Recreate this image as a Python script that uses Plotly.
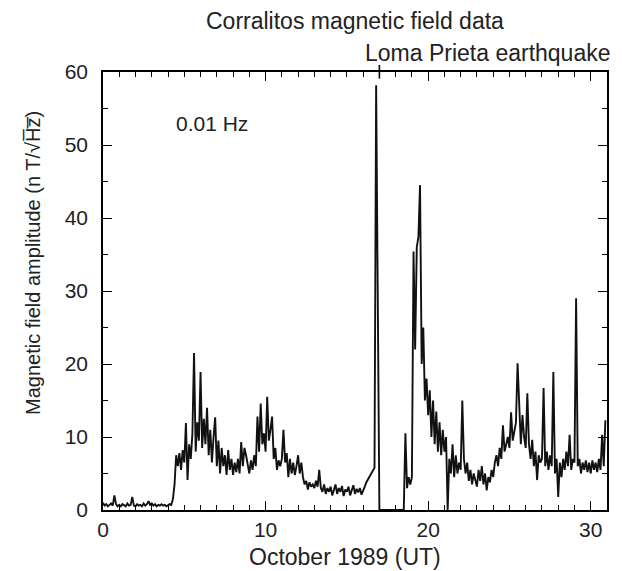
import plotly.graph_objects as go

# Samples every 0.1 day starting at day 0 (October 1989, UT)
sample_step_days = 0.1
amplitude_nT = [
    # day 0
    1.0, 0.6, 0.8, 0.5, 0.7, 0.9, 0.6, 2.0, 0.8, 0.5,
    # day 1
    0.7, 0.5, 0.8, 0.6, 0.5, 0.9, 0.6, 0.7, 1.8, 0.6,
    # day 2
    0.5, 0.8, 0.6, 0.7, 0.5, 0.9, 0.6, 0.8, 1.2, 0.7,
    # day 3
    0.9, 0.6, 0.8, 0.5, 0.7, 0.6, 0.8, 0.6, 0.7, 0.5,
    # day 4
    0.6, 0.8, 0.7, 1.5, 3.5, 7.5, 6.0, 7.8, 5.5, 8.2,
    # day 5
    6.5, 11.9, 4.1, 9.0, 7.0, 10.5, 21.5, 8.0, 12.0, 9.5,
    # day 6
    18.9, 8.5, 12.5, 9.0, 14.0, 7.5, 11.0, 6.5, 10.0, 12.7,
    # day 7
    6.0, 9.5, 5.0, 8.5, 6.0, 7.5, 4.8, 8.2, 5.5, 7.0,
    # day 8
    4.8, 6.5, 5.2, 7.0, 5.0, 9.3, 6.0, 8.5, 7.5, 6.0,
    # day 9
    5.0, 6.8, 5.5, 7.5, 6.0, 12.8, 8.0, 14.6, 9.0, 10.5,
    # day 10
    8.0, 15.5, 9.5, 11.0, 12.8, 7.0, 8.5, 5.5, 6.8, 6.0,
    # day 11
    7.0, 11.0, 6.5, 7.8, 4.5, 7.0, 5.0, 6.5, 4.8, 6.0,
    # day 12
    7.5, 5.0, 6.5, 4.5, 3.5, 4.0, 2.8, 3.8, 3.2, 3.5,
    # day 13
    3.0, 4.0, 3.2, 5.5, 3.0, 2.5, 3.5, 2.2, 3.0, 2.5,
    # day 14
    3.2, 2.0, 2.8, 3.5, 2.2, 3.0, 2.5, 3.3, 1.9, 2.8,
    # day 15
    2.5, 3.2, 2.0, 2.8, 3.4, 2.2, 2.9, 2.4, 3.0, 2.1,
    # day 16
    2.8, 3.2, 3.8, 4.2, 4.6, 5.0, 5.4, 5.8, 58.2, 30.0,
    # day 17
    0.0, 0.0, 0.0, 0.0, 0.0, 0.0, 0.0, 0.0, 0.0, 0.0,
    # day 18
    0.0, 0.0, 0.0, 0.0, 0.0, 0.0, 10.5, 3.0, 4.5, 3.5,
    # day 19
    4.5, 35.4, 22.0, 36.0, 37.4, 44.5, 20.0, 25.0, 15.0, 18.0,
    # day 20
    13.0, 16.4, 10.0, 15.0, 9.0, 13.5, 8.0, 12.0, 7.5, 11.0,
    # day 21
    8.0, 10.0, 0.0, 7.0, 5.0, 9.0, 4.5, 7.5, 5.0, 6.5,
    # day 22
    5.5, 15.0, 7.0, 5.0, 6.5, 4.0, 5.5, 3.5, 5.0, 4.2,
    # day 23
    3.2, 5.5, 4.0, 6.0, 3.5, 5.0, 2.7, 4.5, 3.8, 5.5,
    # day 24
    4.5, 6.5, 7.5, 6.0, 8.5, 7.0, 11.6, 8.0, 9.0, 10.0,
    # day 25
    8.5, 13.4, 9.5, 11.0, 12.0, 20.1, 14.0, 9.0, 13.0, 10.0,
    # day 26
    8.5, 16.0, 9.0, 7.0, 9.6, 6.0, 8.0, 4.1, 7.5, 6.5,
    # day 27
    7.0, 16.7, 6.0, 8.0, 5.5, 7.5, 6.0, 18.9, 5.0, 7.0,
    # day 28
    1.8, 6.5, 4.5, 7.0, 5.5, 8.0, 6.0, 10.3, 5.5, 7.0,
    # day 29
    6.5, 29.0, 6.0, 7.0, 5.0, 6.5, 5.5, 6.8, 5.2, 6.5,
    # day 30
    5.0, 6.8, 5.5, 6.5, 5.2, 7.0, 5.5, 10.3, 6.0, 12.3,
]
day = [round(i * sample_step_days, 1) for i in range(len(amplitude_nT))]

earthquake_day = 17.0
x_range = [0, 31]
y_range = [0, 60]

title_text = "Corralitos magnetic field data"
quake_text = "Loma Prieta earthquake"
freq_text = "0.01 Hz"
x_title = "October 1989 (UT)"
y_title = "Magnetic field amplitude (n T/\u221aH\u0305z\u0305)"

FONT = "Liberation Sans, Arial, sans-serif"

fig = go.Figure()
fig.add_trace(go.Scatter(
    x=day, y=amplitude_nT, mode="lines",
    line=dict(color="#111111", width=1.9),
    hoverinfo="skip", showlegend=False,
))
# empty trace so the overlaid minor-tick axes are drawn
fig.add_trace(go.Scatter(x=[], y=[], xaxis="x2", yaxis="y2", mode="lines",
                         hoverinfo="skip", showlegend=False))

axis_common = dict(
    showgrid=False, zeroline=False, showline=True, linecolor="black",
    linewidth=1.6, mirror="allticks", ticks="inside", tickcolor="black",
    tickwidth=1.3, tickmode="linear", tick0=0,
    tickfont=dict(family=FONT, size=21, color="#222"),
)

fig.update_layout(
    xaxis=dict(**axis_common, range=x_range, dtick=10, ticklen=9, ticklabelstandoff=0),
    yaxis=dict(**axis_common, range=y_range, dtick=10, ticklen=9, ticklabelstandoff=9),
    xaxis2=dict(**axis_common, range=x_range, dtick=1, ticklen=5, overlaying="x",
                anchor="y2", side="bottom", showticklabels=False),
    yaxis2=dict(**axis_common, range=y_range, dtick=5, ticklen=5, overlaying="y",
                anchor="x2", side="left", showticklabels=False),
)

# earthquake marker above the top axis
fig.add_shape(type="line", xref="x", yref="paper", x0=earthquake_day, x1=earthquake_day,
              y0=0.985, y1=1.016, line=dict(color="black", width=1.6))

ann_font = dict(family=FONT, size=23, color="#222")
fig.add_annotation(text=title_text, xref="paper", yref="paper", x=0.5, y=1.0,
                   yshift=51, xanchor="center", yanchor="middle", showarrow=False,
                   font=ann_font)
fig.add_annotation(text=quake_text, xref="paper", yref="paper", x=1.0, y=1.0,
                   xshift=6, yshift=19, xanchor="right", yanchor="middle", showarrow=False,
                   font=ann_font)
fig.add_annotation(text=freq_text, xref="x", yref="y", x=6.7, y=53,
                   xanchor="center", yanchor="middle", showarrow=False,
                   font=dict(family=FONT, size=21, color="#222"))
fig.add_annotation(text=x_title, xref="paper", yref="paper", x=0.48, y=0,
                   yshift=-47, xanchor="center", yanchor="middle", showarrow=False,
                   font=ann_font)
fig.add_annotation(text=y_title, xref="paper", yref="paper", x=0, y=0.564,
                   xshift=-70, xanchor="center", yanchor="middle", textangle=-90,
                   showarrow=False, font=dict(family=FONT, size=20, color="#222"))

# page body adds an 8 px offset, so the figure is 8 px smaller each way
fig.update_layout(
    width=614, height=563,
    margin=dict(l=95, r=15, t=64, b=61),
    paper_bgcolor="white", plot_bgcolor="white",
)

fig.write_html("out.html")
